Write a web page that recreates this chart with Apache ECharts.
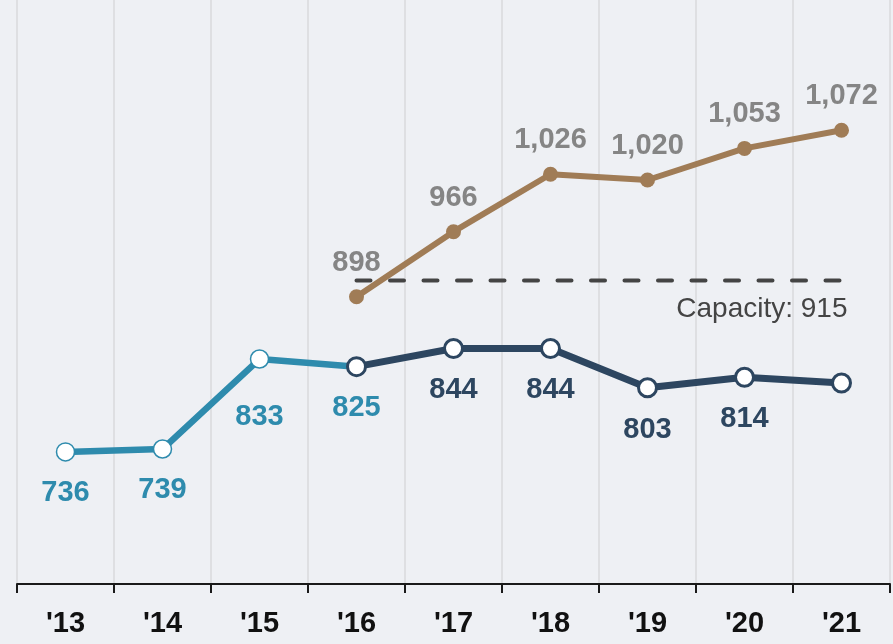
<!DOCTYPE html>
<html>
<head>
<meta charset="utf-8">
<script src="https://cdn.jsdelivr.net/npm/echarts@6/dist/echarts.min.js"></script>
<style>
html,body{margin:0;padding:0;background:#eef0f4;}
#chart{width:893px;height:644px;}
</style>
</head>
<body>
<div id="chart"></div>
<script>
var categories = ["'13","'14","'15","'16","'17","'18","'19","'20","'21"];
var earlyValues = [736, 739, 833, 825, null, null, null, null, null];
var laterValues = [null, null, null, 825, 844, 844, 803, 814, 808];
var upperValues = [null, null, null, 898, 966, 1026, 1020, 1053, 1072];
var capacityValues = [null, null, null, 915, 915, 915, 915, 915, 915];
var capacityLabel = 'Capacity: ';

var BLUE = '#2e8bad', NAVY = '#2d4660', BROWN = '#a07c56', GRAYLBL = '#858585';
var FONT = 'Liberation Sans, Arial, sans-serif';

function fmt(v){ return v.toLocaleString('en-US'); }

var earlyData = earlyValues.map(function(v, i){
  if (v === null) return null;
  var d = {value: v};
  if (i === 2) d.label = {offset: [0, 17]};
  return d;
});
var laterData = laterValues.map(function(v, i){
  if (v === null) return null;
  var d = {value: v};
  if (i === 3 || i === 8) d.label = {show: false};
  return d;
});
var lastIdx = capacityValues.length - 1;
var capData = capacityValues.map(function(v, i){
  if (v === null) return null;
  var d = {value: v};
  if (i === lastIdx) d.label = {show: true};
  return d;
});

var chart = echarts.init(document.getElementById('chart'), null, {renderer: 'canvas'});
chart.setOption({
  backgroundColor: '#eef0f4',
  animation: false,
  grid: {left: 17, right: 3, top: 0, bottom: 60, containLabel: false},
  xAxis: {
    type: 'category',
    data: categories,
    boundaryGap: true,
    axisLine: {lineStyle: {color: '#1a1a1a', width: 2}},
    axisTick: {show: true, length: 9, interval: 0, lineStyle: {color: '#1a1a1a', width: 2}},
    splitLine: {show: true, interval: 0, lineStyle: {color: '#d9dadd', width: 1.5}},
    axisLabel: {color: '#111', fontSize: 29, fontWeight: 'bold', fontFamily: FONT, margin: 25, interval: 0}
  },
  yAxis: {type: 'value', min: 598, max: 1208, show: false, splitLine: {show: false}},
  series: [
    {
      type: 'line', data: earlyData, connectNulls: false,
      lineStyle: {color: BLUE, width: 6.5},
      symbol: 'circle', symbolSize: 18,
      itemStyle: {color: '#ffffff', borderColor: BLUE, borderWidth: 1.5},
      label: {show: true, position: 'bottom', distance: 17, color: BLUE, fontSize: 29, fontWeight: 'bold', fontFamily: FONT},
      z: 2
    },
    {
      type: 'line', data: laterData,
      lineStyle: {color: NAVY, width: 7},
      symbol: 'circle', symbolSize: 18,
      itemStyle: {color: '#ffffff', borderColor: NAVY, borderWidth: 3},
      label: {show: true, position: 'bottom', distance: 17, color: NAVY, fontSize: 29, fontWeight: 'bold', fontFamily: FONT},
      z: 3
    },
    {
      type: 'line', data: upperValues,
      lineStyle: {color: BROWN, width: 6},
      symbol: 'circle', symbolSize: 15,
      itemStyle: {color: BROWN},
      label: {show: true, position: 'top', distance: 12, color: GRAYLBL, fontSize: 29, fontWeight: 'bold', fontFamily: FONT,
        formatter: function(p){ return fmt(p.value); }},
      z: 4
    },
    {
      type: 'line', data: capData,
      lineStyle: {color: '#444444', width: 4, type: [14, 19.5], cap: 'round'},
      symbol: 'circle', symbolSize: 1,
      itemStyle: {color: 'rgba(0,0,0,0)'},
      label: {show: false, position: 'bottom', distance: 14, align: 'right', offset: [6, 0],
        color: '#444444', fontSize: 28, fontFamily: FONT,
        formatter: function(p){ return capacityLabel + fmt(p.value); }},
      z: 1
    }
  ]
});
</script>
</body>
</html>
